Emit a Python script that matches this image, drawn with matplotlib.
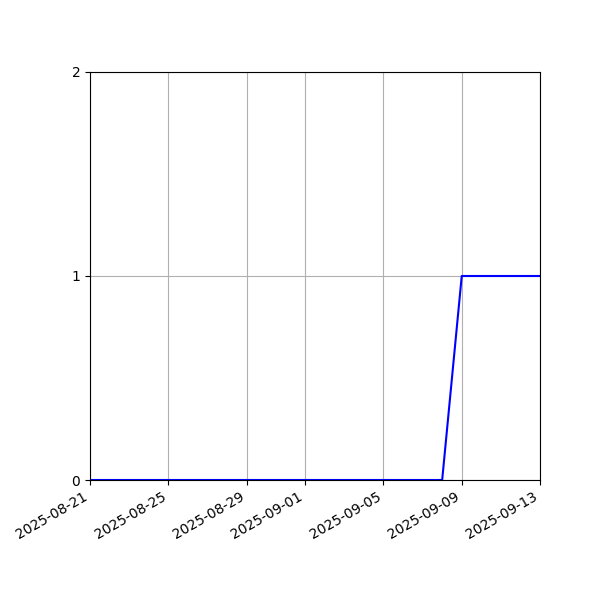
import matplotlib
matplotlib.use("Agg")
import matplotlib.pyplot as plt
import matplotlib.dates as mdates
import pandas as pd

# daily values
dates = pd.date_range("2025-08-21", "2025-09-13", freq="D")
counts = [0] * 19 + [1] * 5
tick_dates = ["2025-08-21", "2025-08-25", "2025-08-29", "2025-09-01",
              "2025-09-05", "2025-09-09", "2025-09-13"]
y_ticks = [0, 1, 2]

fig = plt.figure(figsize=(6, 6), dpi=100)
ax = fig.add_axes([0.15, 0.2, 0.75, 0.68])
ax.plot(dates, counts, color="blue")

ax.set_xlim(dates[0], dates[-1])
ax.set_ylim(0, 2)
ax.set_yticks(y_ticks)
ax.set_xticks(pd.to_datetime(tick_dates))
ax.xaxis.set_major_formatter(mdates.DateFormatter("%Y-%m-%d"))
ax.grid(True)
for lbl in ax.get_xticklabels():
    lbl.set_rotation(30)
    lbl.set_ha("right")

fig.savefig("out.png", dpi=100)
